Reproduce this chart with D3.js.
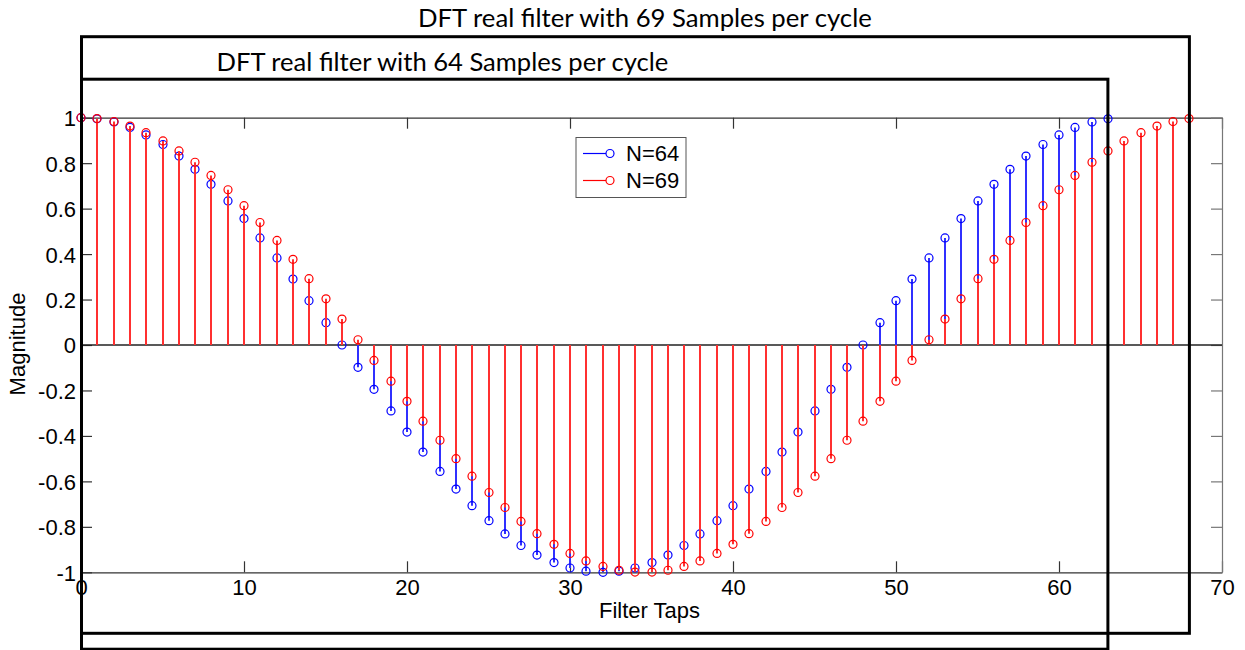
<!DOCTYPE html>
<html><head><meta charset="utf-8">
<script src="https://cdn.jsdelivr.net/npm/d3@7"></script>
<style>body{margin:0;background:#fff} svg{display:block}</style>
</head><body>
<svg id="c" width="1245" height="650"></svg>
<script>
// ---- data ----
const seriesNames = ["N=64", "N=69"];
const values64 = [1.000,0.995,0.981,0.957,0.924,0.882,0.831,0.773,0.707,0.634,0.556,0.471,0.383,0.290,0.195,0.098,
  0.000,-0.098,-0.195,-0.290,-0.383,-0.471,-0.556,-0.634,-0.707,-0.773,-0.831,-0.882,-0.924,-0.957,-0.981,-0.995,
  -1.000,-0.995,-0.981,-0.957,-0.924,-0.882,-0.831,-0.773,-0.707,-0.634,-0.556,-0.471,-0.383,-0.290,-0.195,-0.098,
  0.000,0.098,0.195,0.290,0.383,0.471,0.556,0.634,0.707,0.773,0.831,0.882,0.924,0.957,0.981,0.995];
const values69 = [1.000,0.996,0.983,0.963,0.934,0.898,0.854,0.804,0.746,0.683,0.613,0.539,0.460,0.377,0.292,0.203,
  0.114,0.023,-0.068,-0.159,-0.248,-0.335,-0.419,-0.500,-0.577,-0.649,-0.715,-0.776,-0.830,-0.877,-0.917,-0.950,
  -0.974,-0.991,-0.999,-0.999,-0.991,-0.974,-0.950,-0.917,-0.877,-0.830,-0.776,-0.715,-0.649,-0.577,-0.500,-0.419,
  -0.335,-0.248,-0.159,-0.068,0.023,0.114,0.203,0.292,0.377,0.460,0.539,0.613,0.683,0.746,0.804,0.854,
  0.898,0.934,0.963,0.983,0.996];
const xTicks = [0,10,20,30,40,50,60,70];
const yTicks = [-1,-0.8,-0.6,-0.4,-0.2,0,0.2,0.4,0.6,0.8,1];
const titleOuter = "DFT real filter with 69 Samples per cycle";
const titleInner = "DFT real filter with 64 Samples per cycle";
const xLabel = "Filter Taps";
const yLabel = "Magnitude";

// ---- layout ----
const svg = d3.select("#c");
const x = d3.scaleLinear().domain([0,70]).range([81,1222]);
const y = d3.scaleLinear().domain([-1,1]).range([572.3,117.7]);
const px = v => Math.round(x(v));   // snap stems to pixel boundaries
const tickFont = "'Liberation Sans', Arial, sans-serif";
const titleFont = "Lato, 'Open Sans', sans-serif";
const fs = "22px";
const blue = "#0000ff", red = "#ff0000";
const blueStem = "#3030ff", redStem = "#ff3030";

// axes
const fmt = d => String(+(+d).toFixed(1));
function styleAxis(g, col){
  g.selectAll("path").attr("stroke", col).attr("stroke-width",1.2);
  g.selectAll("line").attr("stroke", col).attr("stroke-width",1.2);
  g.selectAll("text").attr("fill","#000").style("font-family",tickFont).style("font-size",fs);
}
svg.append("g").attr("transform",`translate(0,${y(-1)})`)
  .call(d3.axisBottom(x).tickValues(xTicks).tickFormat(fmt).tickSizeInner(-11).tickSizeOuter(0).tickPadding(7))
  .call(g=>styleAxis(g,"#333"));
svg.append("g").attr("transform",`translate(0,${y(1)})`)
  .call(d3.axisTop(x).tickValues(xTicks).tickFormat("").tickSizeInner(-11).tickSizeOuter(0))
  .call(g=>styleAxis(g,"#333"));
svg.append("g").attr("transform",`translate(${x(70)},0)`)
  .call(d3.axisRight(y).tickValues(yTicks).tickFormat("").tickSizeInner(-11).tickSizeOuter(0))
  .call(g=>styleAxis(g,"#777"));
svg.append("g").attr("transform",`translate(${x(0)},0)`)
  .call(d3.axisLeft(y).tickValues(yTicks).tickFormat(fmt).tickSizeInner(-11).tickSizeOuter(0).tickPadding(5))
  .call(g=>styleAxis(g,"#333"))
  .call(g=>g.selectAll("text").attr("dy","0.36em"));

// axis labels
svg.append("text").attr("x", (x(0)+x(70))/2 - 2).attr("y", 618)
  .attr("text-anchor","middle").style("font-family",tickFont).style("font-size",fs).text(xLabel);
svg.append("text").attr("transform",`translate(25,${(y(1)+y(-1))/2-1}) rotate(-90)`)
  .attr("text-anchor","middle").style("font-family",tickFont).style("font-size",fs).text(yLabel);

// baseline
svg.append("line").attr("x1",x(0)).attr("x2",x(70)).attr("y1",y(0)).attr("y2",y(0))
  .attr("stroke","#222").attr("stroke-width",1.3);

// stems
function drawStems(vals, col){
  svg.append("g").selectAll("line").data(vals).join("line")
    .attr("x1",(d,i)=>px(i)).attr("x2",(d,i)=>px(i))
    .attr("y1",y(0)).attr("y2",d=>y(d))
    .attr("stroke",col).attr("stroke-width",2);
}
function drawMarks(vals, col){
  svg.append("g").selectAll("circle").data(vals).join("circle")
    .attr("cx",(d,i)=>px(i)).attr("cy",d=>y(d)).attr("r",4)
    .attr("fill","none").attr("stroke",col).attr("stroke-width",1.2);
}
drawStems(values64, blueStem);
drawMarks(values64, blue);
drawStems(values69, redStem);
drawMarks(values69, red);

// legend
const lg = svg.append("g");
lg.append("rect").attr("x",576).attr("y",137.5).attr("width",110).attr("height",60)
  .attr("fill","#fff").attr("stroke","#555").attr("stroke-width",1);
[[seriesNames[0],blue,153.5],[seriesNames[1],red,180.5]].forEach(([t,c,yy])=>{
  lg.append("line").attr("x1",583).attr("x2",606).attr("y1",yy).attr("y2",yy).attr("stroke",c).attr("stroke-width",1.2);
  lg.append("circle").attr("cx",610).attr("cy",yy).attr("r",4).attr("fill","none").attr("stroke",c).attr("stroke-width",1.2);
  lg.append("text").attr("x",626).attr("y",yy+7.8).style("font-family",tickFont).style("font-size",fs).text(t);
});

// figure boxes (composited figures)
svg.append("rect").attr("x",81.5).attr("y",36.7).attr("width",x(68)-81.5).attr("height",633.3-36.7)
  .attr("fill","none").attr("stroke","#000").attr("stroke-width",3);
svg.append("rect").attr("x",81.5).attr("y",79.2).attr("width",x(63)-81.5).attr("height",649.2-79.2)
  .attr("fill","none").attr("stroke","#000").attr("stroke-width",3);

// titles fitted to the measured width
function fitTitle(txt, x0, base, w){
  const t = svg.append("text").attr("x",x0).attr("y",base).style("font-family",titleFont)
    .style("font-size","100px").attr("fill","#000").text(txt);
  const L = t.node().getComputedTextLength();
  t.style("font-size",(100*w/L).toFixed(2)+"px");
}
fitTitle(titleOuter, 418, 27.3, 454);
fitTitle(titleInner, 216.5, 71, 452);
</script>
</body></html>
